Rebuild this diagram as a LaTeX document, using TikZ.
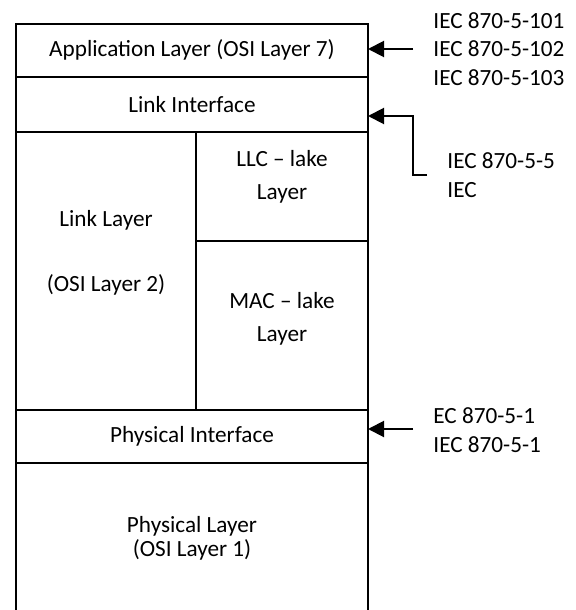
\documentclass[tikz,border=0pt]{standalone}
\usepackage{fontspec}
\setmainfont{Carlito}
\usetikzlibrary{arrows.meta}
\tikzset{
  layer/.style={align=center, inner sep=0pt, font=\fontsize{11.6}{14}\selectfont},
  stdlabel/.style={align=left, anchor=west, inner xsep=10pt, inner ysep=0pt,
    font=\fontsize{11.6}{14.3}\selectfont},
  feed/.style={line width=1pt, -{Triangle[length=8pt,width=8pt]}}
}

\begin{document}
\begin{tikzpicture}[x=0.5pt, y=-0.5pt]
  \useasboundingbox (0,0) rectangle (575,610);
  % Outer frame (open at the bottom)
  \draw[line width=1pt] (16,610) -- (16,24) -- (368,24) -- (368,610);
  % Layer dividers
  \foreach \y in {77,132,410,463}
    \draw[line width=1pt] (16,\y) -- (368,\y);
  \draw[line width=1pt] (196,132) -- (196,410);
  \draw[line width=1pt] (196,241) -- (368,241);
  % Layer texts
  \node[layer] (app) at (192,50) {Application Layer (OSI Layer 7)};
  \node[layer] (linkif) at (192,104.5) {Link Interface};
  \node[layer] (link) at (106,252.5) {Link Layer\\[18.5pt](OSI Layer 2)};
  \node[layer] (llc) at (282,177) {LLC – lake\\[2.5pt]Layer};
  \node[layer] (mac) at (282,319) {MAC – lake\\[2.5pt]Layer};
  \node[layer] (physif) at (192,436.5) {Physical Interface};
  \node[layer] (phys) at (192,538) {Physical Layer\\[-2pt](OSI Layer 1)};
  % Edge points the standards point at
  \coordinate (appR) at (368,49);
  \coordinate (linkifR) at (368,116);
  \coordinate (physifR) at (368,429);
  % Standards
  \node[stdlabel] (std1) at (413,49) {IEC 870-5-101\\IEC 870-5-102\\IEC 870-5-103};
  \node[stdlabel] (std2) at (427,175) {IEC 870-5-5\\IEC};
  \node[stdlabel] (std3) at (413,430) {EC 870-5-1\\IEC 870-5-1};
  % Arrows
  \draw[feed] (std1.west) -- (appR);
  \draw[feed] (std2.west) -- ++(-14,0) |- (linkifR);
  \draw[feed] (std3.west |- physifR) -- (physifR);
\end{tikzpicture}
\end{document}
